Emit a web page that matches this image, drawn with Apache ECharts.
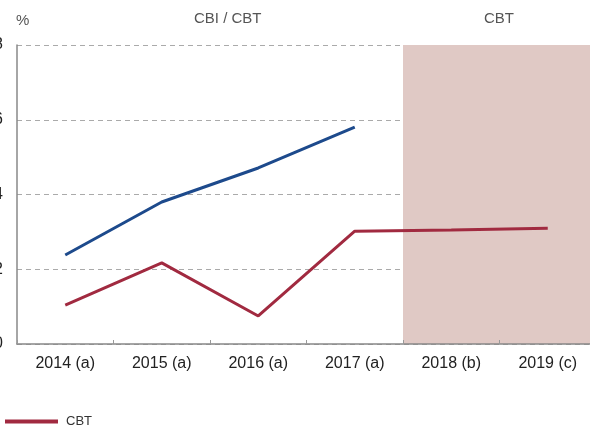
<!DOCTYPE html>
<html>
<head>
<meta charset="utf-8">
<script src="https://cdn.jsdelivr.net/npm/echarts@6/dist/echarts.min.js"></script>
<style>
  html, body { margin: 0; padding: 0; background: #fff; }
  #chart { width: 590px; height: 426px; }
</style>
</head>
<body>
<div id="chart"></div>
<script>
// Datos: CBI/CBT (azul) y CBT (rojo), en %
const years      = ['2014 (a)', '2015 (a)', '2016 (a)', '2017 (a)', '2018 (b)', '2019 (c)'];
const cbiCbt     = [2.38, 3.80, 4.71, 5.80, null, null];
const cbt        = [1.04, 2.17, 0.75, 3.02, 3.05, 3.10];
// zona sombreada (previsiones) sobre un eje auxiliar de bienios, para que sea una sola barra
const shadeSpans = ['2014-2015', '2016-2017', '2018-2019'];
const shade      = [null, null, 8];
const yTicks     = { min: 0, max: 8, interval: 2 };

const FONT = '"Liberation Sans", Arial, sans-serif';
const chart = echarts.init(document.getElementById('chart'), null, { renderer: 'canvas' });

chart.setOption({
  backgroundColor: '#fff',
  animation: false,
  grid: { left: 17, right: -6, top: 45, bottom: 82, containLabel: false, outerBoundsMode: 'none' },
  legend: {
    data: ['CBT'],
    left: 0,
    top: 410,
    icon: 'rect',
    itemWidth: 53,
    itemHeight: 4,
    textStyle: { color: '#333', fontSize: 13, fontFamily: '"Liberation Sans Narrow", "Liberation Sans", sans-serif', padding: [0, 0, 0, 3] },
  },
  graphic: [
    { type: 'text', left: 16, top: 13, style: { text: '%', fill: '#555', font: '15px ' + FONT } },
    { type: 'text', left: 194, top: 11, style: { text: 'CBI / CBT', fill: '#555', font: '15px ' + FONT } },
    { type: 'text', left: 484, top: 11, style: { text: 'CBT', fill: '#555', font: '15px ' + FONT } },
  ],
  xAxis: [
    {
      type: 'category',
      data: years,
      boundaryGap: true,
      axisLine: { lineStyle: { color: '#888', width: 1.5 } },
      axisTick: { show: true, inside: true, length: 4, lineStyle: { color: '#999' } },
      axisLabel: { color: '#222', fontSize: 16, fontFamily: FONT, margin: 12 },
      splitLine: { show: false },
      z: 4,
    },
    {
      type: 'category',
      data: shadeSpans,
      show: false,
    },
  ],
  yAxis: {
    type: 'value',
    ...yTicks,
    axisLine: { show: true, lineStyle: { color: '#888', width: 1.5 } },
    axisTick: { show: false },
    axisLabel: { color: '#222', fontSize: 16, fontFamily: FONT, margin: 14 },
    splitLine: { lineStyle: { color: '#aaa', type: [5, 4], width: 1 } },
  },
  series: [
    {
      name: 'previsión',
      type: 'bar',
      xAxisIndex: 1,
      data: shade,
      barCategoryGap: '0%',
      itemStyle: { color: '#e0c9c5' },
      silent: true,
      z: 1,
    },
    {
      name: 'CBI / CBT',
      type: 'line',
      data: cbiCbt,
      symbol: 'none',
      lineStyle: { color: '#1d4a8c', width: 3 },
      itemStyle: { color: '#1d4a8c' },
      z: 3,
    },
    {
      name: 'CBT',
      type: 'line',
      data: cbt,
      symbol: 'none',
      lineStyle: { color: '#a12a40', width: 3 },
      itemStyle: { color: '#a12a40' },
      z: 3,
    },
  ],
});
</script>
</body>
</html>
